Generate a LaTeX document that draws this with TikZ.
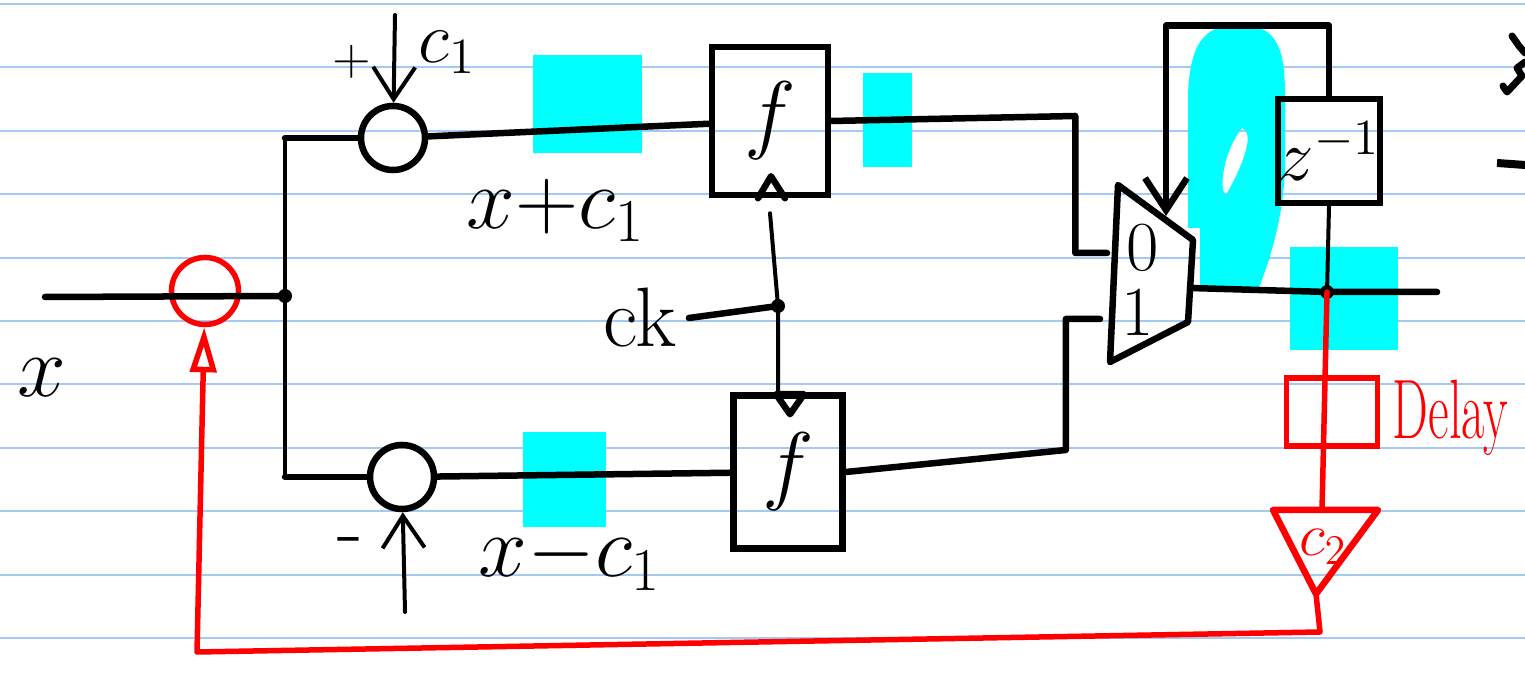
\documentclass[tikz,border=0pt]{standalone}
\usepackage{graphicx}
\usetikzlibrary{calc,arrows.meta}
\definecolor{ruleblue}{RGB}{164,201,243}
\definecolor{hlcyan}{RGB}{0,255,255}
\definecolor{penred}{RGB}{255,0,0}
\def\hand#1{\fontsize{#1}{#1}\selectfont}
\tikzset{
  wire/.style={line width=0.65mm, line cap=round, line join=round},
  thinwire/.style={line width=0.4mm, line cap=round},
  redwire/.style={line width=0.55mm, color=penred, line cap=round, line join=round},
  ruled/.style={line width=0.2mm, color=ruleblue},
  hl/.style={fill=hlcyan},
  adder/.style={circle, draw, line width=0.65mm, inner sep=0pt, minimum size=0.64cm},
  ffbox/.style={draw, line width=0.65mm, inner sep=0pt},
  vtip/.style={-{Straight Barb[length=3.2mm, width=4.2mm]}}
}

\begin{document}
\begin{tikzpicture}[x=0.01cm, y=-0.01cm]
		%%%%% START %%%%%
		
		\useasboundingbox (0,0) rectangle (1525,674);
		\clip (0,0) rectangle (1525,674);
		
		\foreach \k in {0,...,10}
			\draw[ruled] (0,{4+63.4*\k}) -- (1525,{4+63.4*\k});
		
		\fill[hl] (533,55) rectangle (642,153);
		\fill[hl] (863,73) rectangle (912,167);
		\fill[hl] (523,432) rectangle (606,527);
		\fill[hl] (1290,247) rectangle (1398,350);
		\fill[hl, even odd rule] (1188,228) -- (1188,95) .. controls (1190,35) and (1210,25) .. (1240,25)
			.. controls (1275,25) and (1285,45) .. (1285,95) -- (1285,170)
			.. controls (1283,215) and (1272,255) .. (1258,290) -- (1200,290) -- (1200,228) -- cycle
			(1242,128) .. controls (1254,132) and (1246,160) .. (1226,195)
			.. controls (1218,190) and (1224,150) .. (1242,128) -- cycle;
		
		\coordinate (xin) at (45,297);
		\coordinate (split) at (285,296);
		\node[adder, draw=penred, line width=0.55mm, minimum size=0.67cm] (addR) at (205,291) {};
		\node[adder] (addP) at (393,138) {};
		\node[adder] (addM) at (402,477) {};
		\node[ffbox, minimum width=1.16cm, minimum height=1.48cm] (ffP) at (770,121) {\hand{28}$f$};
		\node[ffbox, minimum width=1.09cm, minimum height=1.53cm] (ffM) at (788,472) {\hand{28}$f$};
		\coordinate (ckdot) at (778,306);
		\node (lck) at (640,318) {\hand{24}ck};
		
		\coordinate (muxA) at (1118,185);
		\coordinate (muxB) at (1193,240);
		\coordinate (muxC) at (1188,322);
		\coordinate (muxD) at (1110,362);
		\coordinate (mux0) at (1107,253);
		\coordinate (mux1) at (1100,319);
		\coordinate (muxsel) at (1166,216);
		\coordinate (muxout) at (1190,288);
		\node[ffbox, minimum width=0.94cm, minimum height=1.04cm] (zdel) at (1329,151) {\hand{20}$z^{-1}$};
		\coordinate (yj) at (1327,292);
		\coordinate (yout) at (1437,292);
		\node[ffbox, draw=penred, line width=0.55mm, minimum width=0.91cm, minimum height=0.68cm] (dly) at (1332,412) {};
		\coordinate (mulT) at (1322,510);
		\coordinate (mulB) at (1316,594);
		
		\node (lx) at (42,378) {\hand{26}$x$};
		\node (lplus) at (352,62) {\hand{14}$+$};
		\node (lminus) at (350,548) {\hand{24}-};
		\node (lc1) at (447,52) {\hand{20}$c_1$};
		\node (lsum) at (556,210) {\hand{24}$x{+}c_1$};
		\node (ldif) at (570,558) {\hand{24}$x{-}c_1$};
		
		\draw[wire] (xin) -- (split);
		\fill (split) circle (7);
		\draw[thinwire] (split) -- (split |- addP);
		\draw[wire] (split |- addP) -- (addP);
		\draw[thinwire] (split) -- (split |- addM);
		\draw[wire] (split |- addM) -- (addM);
		\draw[wire] (addP) -- (ffP);
		\draw[wire] (addM) -- (ffM);
		
		\coordinate (c1top) at (395,15);
		\coordinate (c1bot) at (405,612);
		\draw[thinwire, vtip] (c1top) -- (addP);
		\draw[thinwire, vtip] (c1bot) -- (addM);
		
		\draw[wire] ($(ffP.south)+(-12,0)$) -- ++(13,-22) -- ++(14,22);
		\draw[wire] ($(ffM.north)+(-12,2)$) -- ++(28,0) -- ++(-14,20) -- cycle;
		\draw[wire] (lck.east) -- (ckdot);
		\draw[thinwire] ($(ffP.south)+(0,15)$) -- (ckdot) -- (ckdot |- ffM.north);
		\fill (ckdot) circle (7);
		
		\draw[wire] (ffP.east) -- ++(244,-5) |- (mux0);
		\draw[wire] (ffM.east) -- ++(220,-22) |- (mux1);
		
		\draw[wire] (muxA) -- (muxB) -- (muxC) -- (muxD) -- cycle;
		\node (lm0) at (1143,248) {\hand{20}0};
		\node (lm1) at (1138,312) {\hand{20}1};
		
		\draw[wire, vtip] (zdel.north) -- ++(0,-70) -| (muxsel);
		\draw[thinwire] (zdel.south) -- (yj);
		\draw[wire] (muxout) -- (yj) -- (yout);
		\fill (yj) circle (7);
		
		\draw[line width=0.7mm, line cap=round, line join=round] (1512,36) -- (1519,46) -- (1525,53);
		\draw[line width=0.7mm, line cap=round, line join=round] (1525,62) -- (1517,68) -- (1522,76) -- (1507,92) -- (1503,86);
		\draw[line width=0.8mm] (1497,163) -- (1525,165);
		
		\draw[redwire] (yj) -- (mulT);
		\draw[redwire, line width=0.65mm] (1273,510) -- (1378,510) -- (mulB) -- cycle;
		\node[text=penred] (lc2) at (1323,547) {\hand{18}$c_2$};
		\node[text=penred, anchor=west, inner sep=0pt] (ldly) at (1392,418) {\hand{24}\scalebox{0.6}[1]{Delay}};
		\draw[redwire, -{Triangle[open, length=4.5mm, width=2.6mm]}] (mulB) -- ++(4,38) -- (197,652) -- (addR);
		
		%%%%% END %%%%%
	\end{tikzpicture}
\end{document}
